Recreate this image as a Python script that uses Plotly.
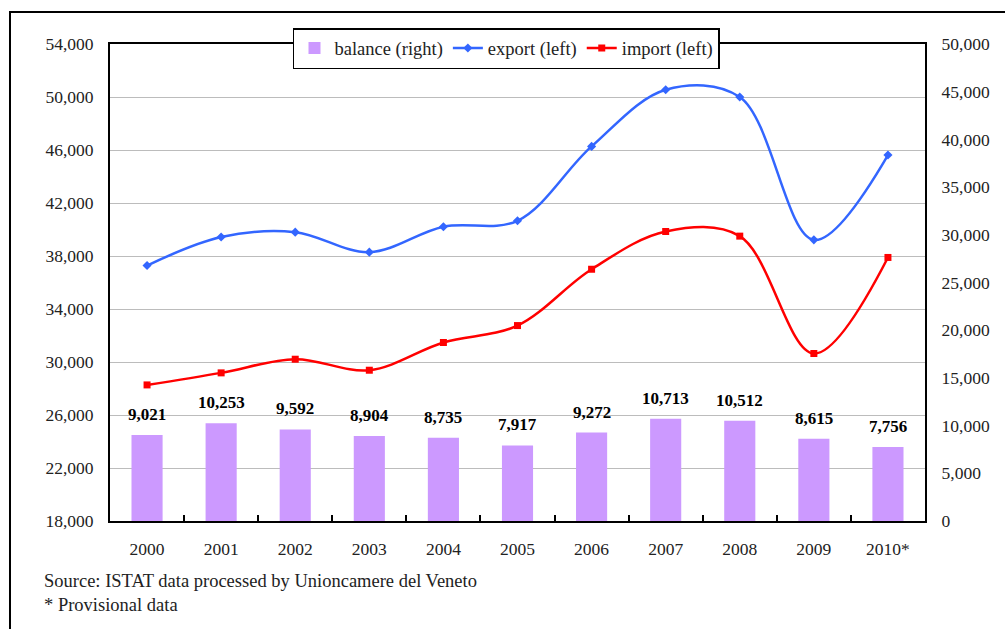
import plotly.graph_objects as go

years = ["2000", "2001", "2002", "2003", "2004", "2005", "2006", "2007", "2008", "2009", "2010*"]
export_vals = [37280, 39430, 39800, 38290, 40210, 40660, 46270, 50550, 50000, 39220, 45620]
import_vals = [28270, 29180, 30210, 29380, 31470, 32750, 37000, 39850, 39500, 30640, 37890]
balance_vals = [9021, 10253, 9592, 8904, 8735, 7917, 9272, 10713, 10512, 8615, 7756]

FONT = "Liberation Serif"
xpos = list(range(len(years)))

fig = go.Figure()

fig.add_trace(go.Bar(
    x=xpos, y=balance_vals, name="balance (right)",
    marker=dict(color="#cc99ff", line=dict(width=0)),
    width=0.42, yaxis="y2",
))
fig.add_trace(go.Scatter(
    x=xpos, y=export_vals, name="export (left)", mode="lines+markers",
    line=dict(color="#3366ff", width=2.5, shape="spline", smoothing=1),
    marker=dict(symbol="diamond", size=7, color="#3366ff"),
    yaxis="y",
))
fig.add_trace(go.Scatter(
    x=xpos, y=import_vals, name="import (left)", mode="lines+markers",
    line=dict(color="#ff0000", width=2.5, shape="spline", smoothing=1),
    marker=dict(symbol="square", size=7, color="#ff0000"),
    yaxis="y",
))

for xi, v in zip(xpos, balance_vals):
    fig.add_annotation(
        x=xi, y=v, xref="x", yref="y2", text=f"<b>{v:,}</b>",
        showarrow=False, yanchor="bottom", yshift=9,
        font=dict(family=FONT, size=17, color="black"),
    )

fig.add_annotation(x=-0.084, y=-0.126, xref="paper", yref="paper",
                   text="Source: ISTAT data processed by Unioncamere del Veneto",
                   showarrow=False, xanchor="left", yanchor="middle",
                   font=dict(family=FONT, size=18.5, color="#222222"))
fig.add_annotation(x=-0.084, y=-0.176, xref="paper", yref="paper",
                   text="* Provisional data",
                   showarrow=False, xanchor="left", yanchor="middle",
                   font=dict(family=FONT, size=18.5, color="#222222"))

# outer frame (right and bottom edges fall outside the picture)
fig.add_shape(type="rect", xref="paper", yref="paper",
              x0=-0.1227, x1=1.12, y0=-0.26, y1=1.067,
              line=dict(color="black", width=2), layer="below")

fig.update_layout(
    width=1005, height=629,
    margin=dict(l=110, r=80, t=44, b=108, autoexpand=False),
    paper_bgcolor="white", plot_bgcolor="white",
    font=dict(family=FONT, size=17, color="#222222"),
    showlegend=True,
    legend=dict(orientation="h", x=0.4865, xanchor="center", y=1.0335, yanchor="top",
                bgcolor="white", bordercolor="black", borderwidth=1.5,
                font=dict(family=FONT, size=18.5, color="#222222"),
                traceorder="normal", itemwidth=30),
    xaxis=dict(range=[-0.5, len(years) - 0.5], tickmode="array", tickvals=xpos, ticktext=years,
               showline=True, linecolor="black", linewidth=2, mirror=True,
               ticks="", showgrid=False, zeroline=False, ticklabelstandoff=11,
               automargin=False, tickangle=0,
               minor=dict(tickmode="array", tickvals=[i + 0.5 for i in xpos[:-1]],
                          ticks="inside", ticklen=6, tickcolor="black", tickwidth=2,
                          showgrid=False),
               tickfont=dict(family=FONT, size=17.5, color="#222222")),
    yaxis=dict(range=[18000, 54000], dtick=4000, tick0=18000, tickformat=",", side="left",
               showline=True, linecolor="black", linewidth=2,
               showgrid=True, gridcolor="#bcbcbc", gridwidth=1.2,
               zeroline=False, ticks="", ticklabelstandoff=11, automargin=False,
               tickfont=dict(family=FONT, size=17.5, color="#222222")),
    yaxis2=dict(range=[0, 50000], dtick=5000, tickformat=",", side="right",
                overlaying="y", showline=True, linecolor="black", linewidth=2,
                showgrid=False, zeroline=False, ticks="", ticklabelstandoff=11,
                automargin=False,
                tickfont=dict(family=FONT, size=17.5, color="#222222")),
)

fig.write_html("out.html", config={"displayModeBar": False},
               post_script="document.body.style.margin='0';")
